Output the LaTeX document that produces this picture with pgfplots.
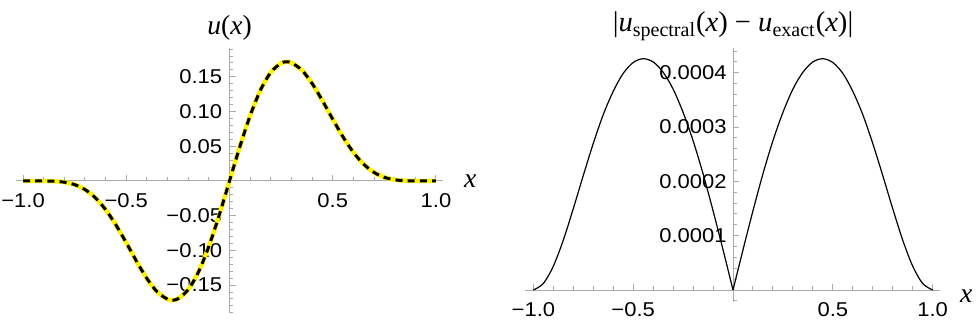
\documentclass[border=0pt]{standalone}
\usepackage{fontspec}
\setmainfont{Liberation Serif}
\newfontfamily\tickfont[FakeStretch=1.1]{Liberation Sans}
\usepackage{pgfplots}
\pgfplotsset{compat=1.18}
\definecolor{axgray}{RGB}{170,170,170}
\definecolor{myyellow}{RGB}{255,242,0}
\pgfplotsset{mma/.style={
  scale only axis, axis lines=middle,
  axis line style={axgray, line width=0.5pt, -},
  every tick/.style={axgray, line width=0.5pt},
  tick align=inside,
  major tick length=3pt, minor tick length=1.8pt,
  ticklabel style={font=\tickfont\fontsize{10}{12}\selectfont, text=black},
  xticklabel style={anchor=north, inner sep=0pt, yshift=-6pt},
  clip=false, scaled ticks=false,
  xtick={-1,-0.5,0.5,1}, xticklabels={−1.0,−0.5,0.5,1.0},
  minor xtick={-0.9,-0.8,-0.7,-0.6,-0.4,-0.3,-0.2,-0.1,0.1,0.2,0.3,0.4,0.6,0.7,0.8,0.9},
}}
\begin{document}
\begin{tikzpicture}
\path[use as bounding box] (0,0) rectangle (488.5pt,163pt);
\begin{axis}[mma, at={(8pt,6.5pt)}, anchor=south west,
  width=213.5pt, height=132.5pt,
  xmin=-1.034, xmax=1.034, ymin=-0.1902, ymax=0.1916,
  ytick={-0.15,-0.1,-0.05,0.05,0.1,0.15},
  yticklabels={−0.15,−0.10,−0.05,0.05,0.10,0.15},
  minor ytick={-0.19,-0.18,-0.17,-0.16,-0.14,-0.13,-0.12,-0.11,-0.09,-0.08,-0.07,-0.06,-0.04,-0.03,-0.02,-0.01,0.01,0.02,0.03,0.04,0.06,0.07,0.08,0.09,0.11,0.12,0.13,0.14,0.16,0.17,0.18,0.19},
  yticklabel style={anchor=east, inner sep=0pt, xshift=-3.5pt}]
\addplot[myyellow, line width=2.2pt, smooth] coordinates {
(-1,0) (-0.95,0) (-0.9,-0.00004) (-0.85,-0.00039) (-0.8,-0.00174) (-0.75,-0.00526)
(-0.7,-0.01232) (-0.65,-0.02411) (-0.6,-0.04123) (-0.55,-0.06334) (-0.5,-0.08899)
(-0.45,-0.11576) (-0.4,-0.14052) (-0.35,-0.15980) (-0.3,-0.17036) (-0.275,-0.17157)
(-0.25,-0.16974) (-0.2,-0.15655) (-0.15,-0.13086) (-0.1,-0.09415) (-0.05,-0.04926)
(0,0) (0.05,0.04926) (0.1,0.09415) (0.15,0.13086) (0.2,0.15655) (0.25,0.16974)
(0.275,0.17157) (0.3,0.17036) (0.35,0.15980) (0.4,0.14052) (0.45,0.11576)
(0.5,0.08899) (0.55,0.06334) (0.6,0.04123) (0.65,0.02411) (0.7,0.01232)
(0.75,0.00526) (0.8,0.00174) (0.85,0.00039) (0.9,0.00004) (0.95,0) (1,0)};
\addplot[black, line width=1.5pt, dash pattern=on 3.5pt off 2.6pt, smooth] coordinates {
(-1,0) (-0.95,0) (-0.9,-0.00004) (-0.85,-0.00039) (-0.8,-0.00174) (-0.75,-0.00526)
(-0.7,-0.01232) (-0.65,-0.02411) (-0.6,-0.04123) (-0.55,-0.06334) (-0.5,-0.08899)
(-0.45,-0.11576) (-0.4,-0.14052) (-0.35,-0.15980) (-0.3,-0.17036) (-0.275,-0.17157)
(-0.25,-0.16974) (-0.2,-0.15655) (-0.15,-0.13086) (-0.1,-0.09415) (-0.05,-0.04926)
(0,0) (0.05,0.04926) (0.1,0.09415) (0.15,0.13086) (0.2,0.15655) (0.25,0.16974)
(0.275,0.17157) (0.3,0.17036) (0.35,0.15980) (0.4,0.14052) (0.45,0.11576)
(0.5,0.08899) (0.55,0.06334) (0.6,0.04123) (0.65,0.02411) (0.7,0.01232)
(0.75,0.00526) (0.8,0.00174) (0.85,0.00039) (0.9,0.00004) (0.95,0) (1,0)};
\node[anchor=base, yshift=6.5pt, font=\fontsize{13.8}{16}\selectfont] at (axis cs:0,0.1916) {\textit{u}(\textit{x})};
\node[anchor=base west, xshift=7pt, yshift=-3.5pt, font=\fontsize{13.8}{16}\selectfont] at (axis cs:1.034,0) {\textit{x}};
\end{axis}
\begin{axis}[mma, at={(262.5pt,12pt)}, anchor=south west,
  width=207.5pt, height=127pt,
  xmin=-1.042, xmax=1.037, ymin=-0.0000221, ymax=0.0004457,
  ytick={0.0001,0.0002,0.0003,0.0004},
  yticklabels={0.0001,0.0002,0.0003,0.0004},
  minor ytick={-0.00002,0.00002,0.00004,0.00006,0.00008,0.00012,0.00014,0.00016,0.00018,0.00022,0.00024,0.00026,0.00028,0.00032,0.00034,0.00036,0.00038,0.00042,0.00044},
  yticklabel style={anchor=east, inner sep=0pt, xshift=-3pt}]
\addplot[black, line width=0.6pt, smooth] coordinates {
(-1,0) (-0.95,0.000012) (-0.9,0.000044) (-0.85,0.000092) (-0.8,0.000150)
(-0.75,0.000211) (-0.7,0.000270) (-0.65,0.000323) (-0.6,0.000366) (-0.55,0.000399)
(-0.5,0.000419) (-0.45,0.000426) (-0.4,0.000420) (-0.35,0.000401) (-0.3,0.000370)
(-0.25,0.000327) (-0.2,0.000275) (-0.15,0.000214) (-0.1,0.000146) (-0.05,0.000074) (0,0)};
\addplot[black, line width=0.6pt, smooth] coordinates {
(0,0) (0.05,0.000074) (0.1,0.000146) (0.15,0.000214) (0.2,0.000275) (0.25,0.000327)
(0.3,0.000370) (0.35,0.000401) (0.4,0.000420) (0.45,0.000426) (0.5,0.000419)
(0.55,0.000399) (0.6,0.000366) (0.65,0.000323) (0.7,0.000270) (0.75,0.000211)
(0.8,0.000150) (0.85,0.000092) (0.9,0.000044) (0.95,0.000012) (1,0)};
\node[anchor=base, yshift=8pt, font=\fontsize{14.3}{16}\selectfont] at (axis cs:0,0.0004457) {|\textit{u}\textsubscript{spectral}(\textit{x}) − \textit{u}\textsubscript{exact}(\textit{x})|};
\node[anchor=base west, xshift=6.5pt, yshift=-6pt, font=\fontsize{13.8}{16}\selectfont] at (axis cs:1.037,0) {\textit{x}};
\end{axis}
\end{tikzpicture}
\end{document}
